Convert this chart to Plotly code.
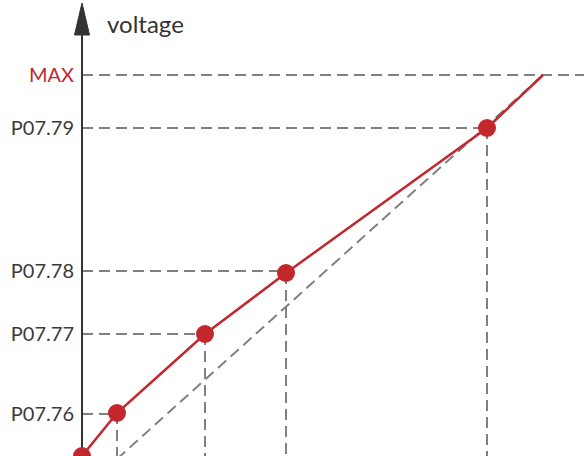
import plotly.graph_objects as go

# ---- data (schematic units) ----
point_x = [0, 3.5, 12.3, 20.4, 40.5]
point_y = [0, 4.3, 12.2, 18.3, 32.8]
max_x = 46.1
max_y = 38.1
tick_labels = ["P07.76", "P07.77", "P07.78", "P07.79", "MAX"]
tick_vals = [4.2, 12.2, 18.5, 32.8, 38.1]
axis_title = "voltage"

RED = "#c1272d"
GRAY = "#808080"
DARK = "#333333"

X_RANGE = [-8.2, 50.2]
Y_RANGE = [0, 45.6]

fig = go.Figure()

dash = "11px,6px"

# horizontal guides from axis to points (skip origin)
for tv, px in zip(tick_vals[:4], point_x[1:]):
    fig.add_trace(go.Scatter(x=[0, px], y=[tv, tv], mode="lines",
                             line=dict(color=GRAY, width=2, dash=dash),
                             hoverinfo="skip", showlegend=False))
# MAX guide across whole width
fig.add_trace(go.Scatter(x=[0, X_RANGE[1] + 1], y=[max_y, max_y], mode="lines",
                         line=dict(color=GRAY, width=2, dash=dash),
                         hoverinfo="skip", showlegend=False))
# vertical guides from points down
for px, py in zip(point_x[1:], point_y[1:]):
    fig.add_trace(go.Scatter(x=[px, px], y=[py, Y_RANGE[0] - 1], mode="lines",
                             line=dict(color=GRAY, width=2, dash=dash),
                             hoverinfo="skip", showlegend=False))
# straight reference diagonal
fig.add_trace(go.Scatter(x=[point_x[1], max_x], y=[-0.3, max_y], mode="lines",
                         line=dict(color=GRAY, width=2, dash=dash),
                         hoverinfo="skip", showlegend=False))

# vertical axis line
arrow_base = 42.1
arrow_tip = 45.3
fig.add_trace(go.Scatter(x=[0, 0], y=[Y_RANGE[0] - 1, arrow_base], mode="lines",
                         line=dict(color=DARK, width=2),
                         hoverinfo="skip", showlegend=False))

# red curve
fig.add_trace(go.Scatter(x=point_x + [max_x], y=point_y + [max_y], mode="lines",
                         line=dict(color=RED, width=2.5),
                         hoverinfo="skip", showlegend=False))
fig.add_trace(go.Scatter(x=point_x, y=point_y, mode="markers",
                         marker=dict(color=RED, size=18),
                         hoverinfo="skip", showlegend=False))

# arrow head
hw = 0.75
fig.add_shape(type="path",
              path=f"M {-hw} {arrow_base} L {hw} {arrow_base} L 0 {arrow_tip} Z",
              xref="x", yref="y", fillcolor=DARK, line=dict(color=DARK, width=1))

fig.add_annotation(x=2.3, y=43.3, xref="x", yref="y", text=axis_title,
                   showarrow=False, xanchor="left", yanchor="middle",
                   font=dict(family="Lato", size=24, color=DARK))

ticktext = [f"<span style='color:{RED}'>{t}</span>" if t == "MAX" else t
            for t in tick_labels]

fig.update_layout(
    width=584, height=456,
    margin=dict(l=0, r=0, t=0, b=0),
    paper_bgcolor="white", plot_bgcolor="white",
    hovermode=False,
    xaxis=dict(range=X_RANGE, visible=False, domain=[0, 1], fixedrange=True),
    yaxis=dict(range=Y_RANGE, anchor="free", position=82 / 584,
               tickvals=tick_vals, ticktext=ticktext, fixedrange=True,
               showgrid=False, zeroline=False, showline=False,
               ticks="", ticklabelstandoff=8,
               tickfont=dict(family="Lato", size=20, color="#3a3a3a")),
)

fig.write_html("out.html",
               config={"displayModeBar": False, "staticPlot": True},
               post_script="document.body.style.margin='0px';document.body.style.overflow='hidden';")
